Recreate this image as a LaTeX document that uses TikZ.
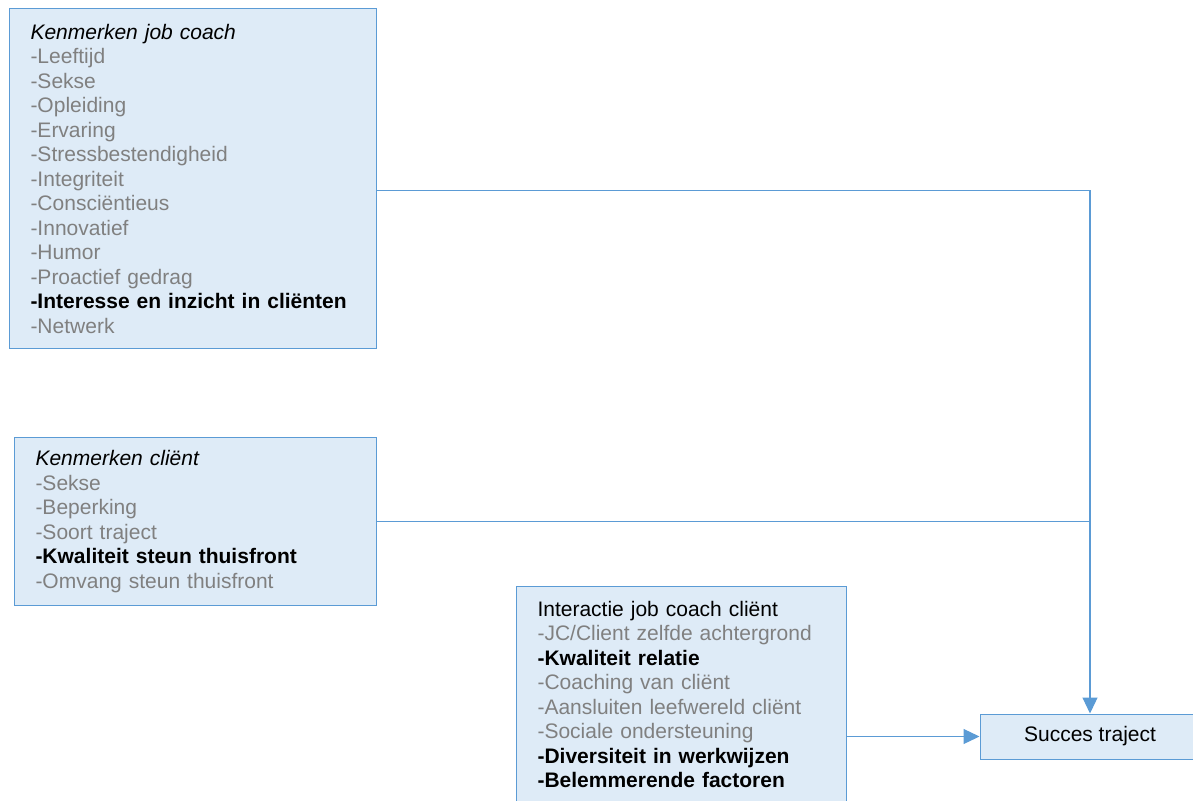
\documentclass[tikz,border=0pt]{standalone}
\usepackage{fontspec}
\setmainfont{Liberation Sans}
\usepackage{tikz}
\usetikzlibrary{arrows.meta}
\usepackage{xcolor}
\definecolor{boxfill}{HTML}{DEEBF7}
\definecolor{boxline}{HTML}{5B9BD5}
\definecolor{greytext}{HTML}{808080}
\newcommand{\zw}[1]{\textcolor{greytext}{#1}}

\begin{document}
\begin{tikzpicture}[x=1pt, y=-1pt,
    box/.style={draw=boxline, fill=boxfill, line width=1pt, anchor=north west, align=left,
        inner xsep=21pt, inner ysep=0pt, font=\fontsize{21}{24.5}\selectfont},
    link/.style={draw=boxline, line width=1.2pt},
    pijl/.style={link, -{Triangle[length=16pt, width=15pt]}}]
    \useasboundingbox (0,0) rectangle (1193,800);
    \node[box, text width=325pt, minimum height=340pt] (coach) at (9,8) {\textit{Kenmerken job coach}\\
        \zw{-Leeftijd}\\ \zw{-Sekse}\\ \zw{-Opleiding}\\ \zw{-Ervaring}\\ \zw{-Stressbestendigheid}\\
        \zw{-Integriteit}\\ \zw{-Consciëntieus}\\ \zw{-Innovatief}\\ \zw{-Humor}\\ \zw{-Proactief gedrag}\\
        \textbf{-Interesse en inzicht in cliënten}\\ \zw{-Netwerk}};
    \node[box, text width=320pt, minimum height=168pt] (client) at (14,437) {\textit{Kenmerken cliënt}\\
        \zw{-Sekse}\\ \zw{-Beperking}\\ \zw{-Soort traject}\\ \textbf{-Kwaliteit steun thuisfront}\\
        \zw{-Omvang steun thuisfront}};
    \node[box, text width=288pt, minimum height=216pt] (interactie) at (516,586) {Interactie job coach cliënt\\
        \zw{-JC/Client zelfde achtergrond}\\ \textbf{-Kwaliteit relatie}\\ \zw{-Coaching van cliënt}\\
        \zw{-Aansluiten leefwereld cliënt}\\ \zw{-Sociale ondersteuning}\\
        \textbf{-Diversiteit in werkwijzen}\\ \textbf{-Belemmerende factoren}};
    \node[box, anchor=center, align=center, inner xsep=0pt, minimum width=220pt, minimum height=45pt] (succes) at (1090,736.5) {Succes traject};
    \draw[pijl] ([yshift=-12pt]coach.east) -| (succes.north);
    \draw[link] (client.east) -- (client.east -| succes.north);
    \draw[pijl] (interactie.east |- succes.west) -- (succes.west);
\end{tikzpicture}
\end{document}
